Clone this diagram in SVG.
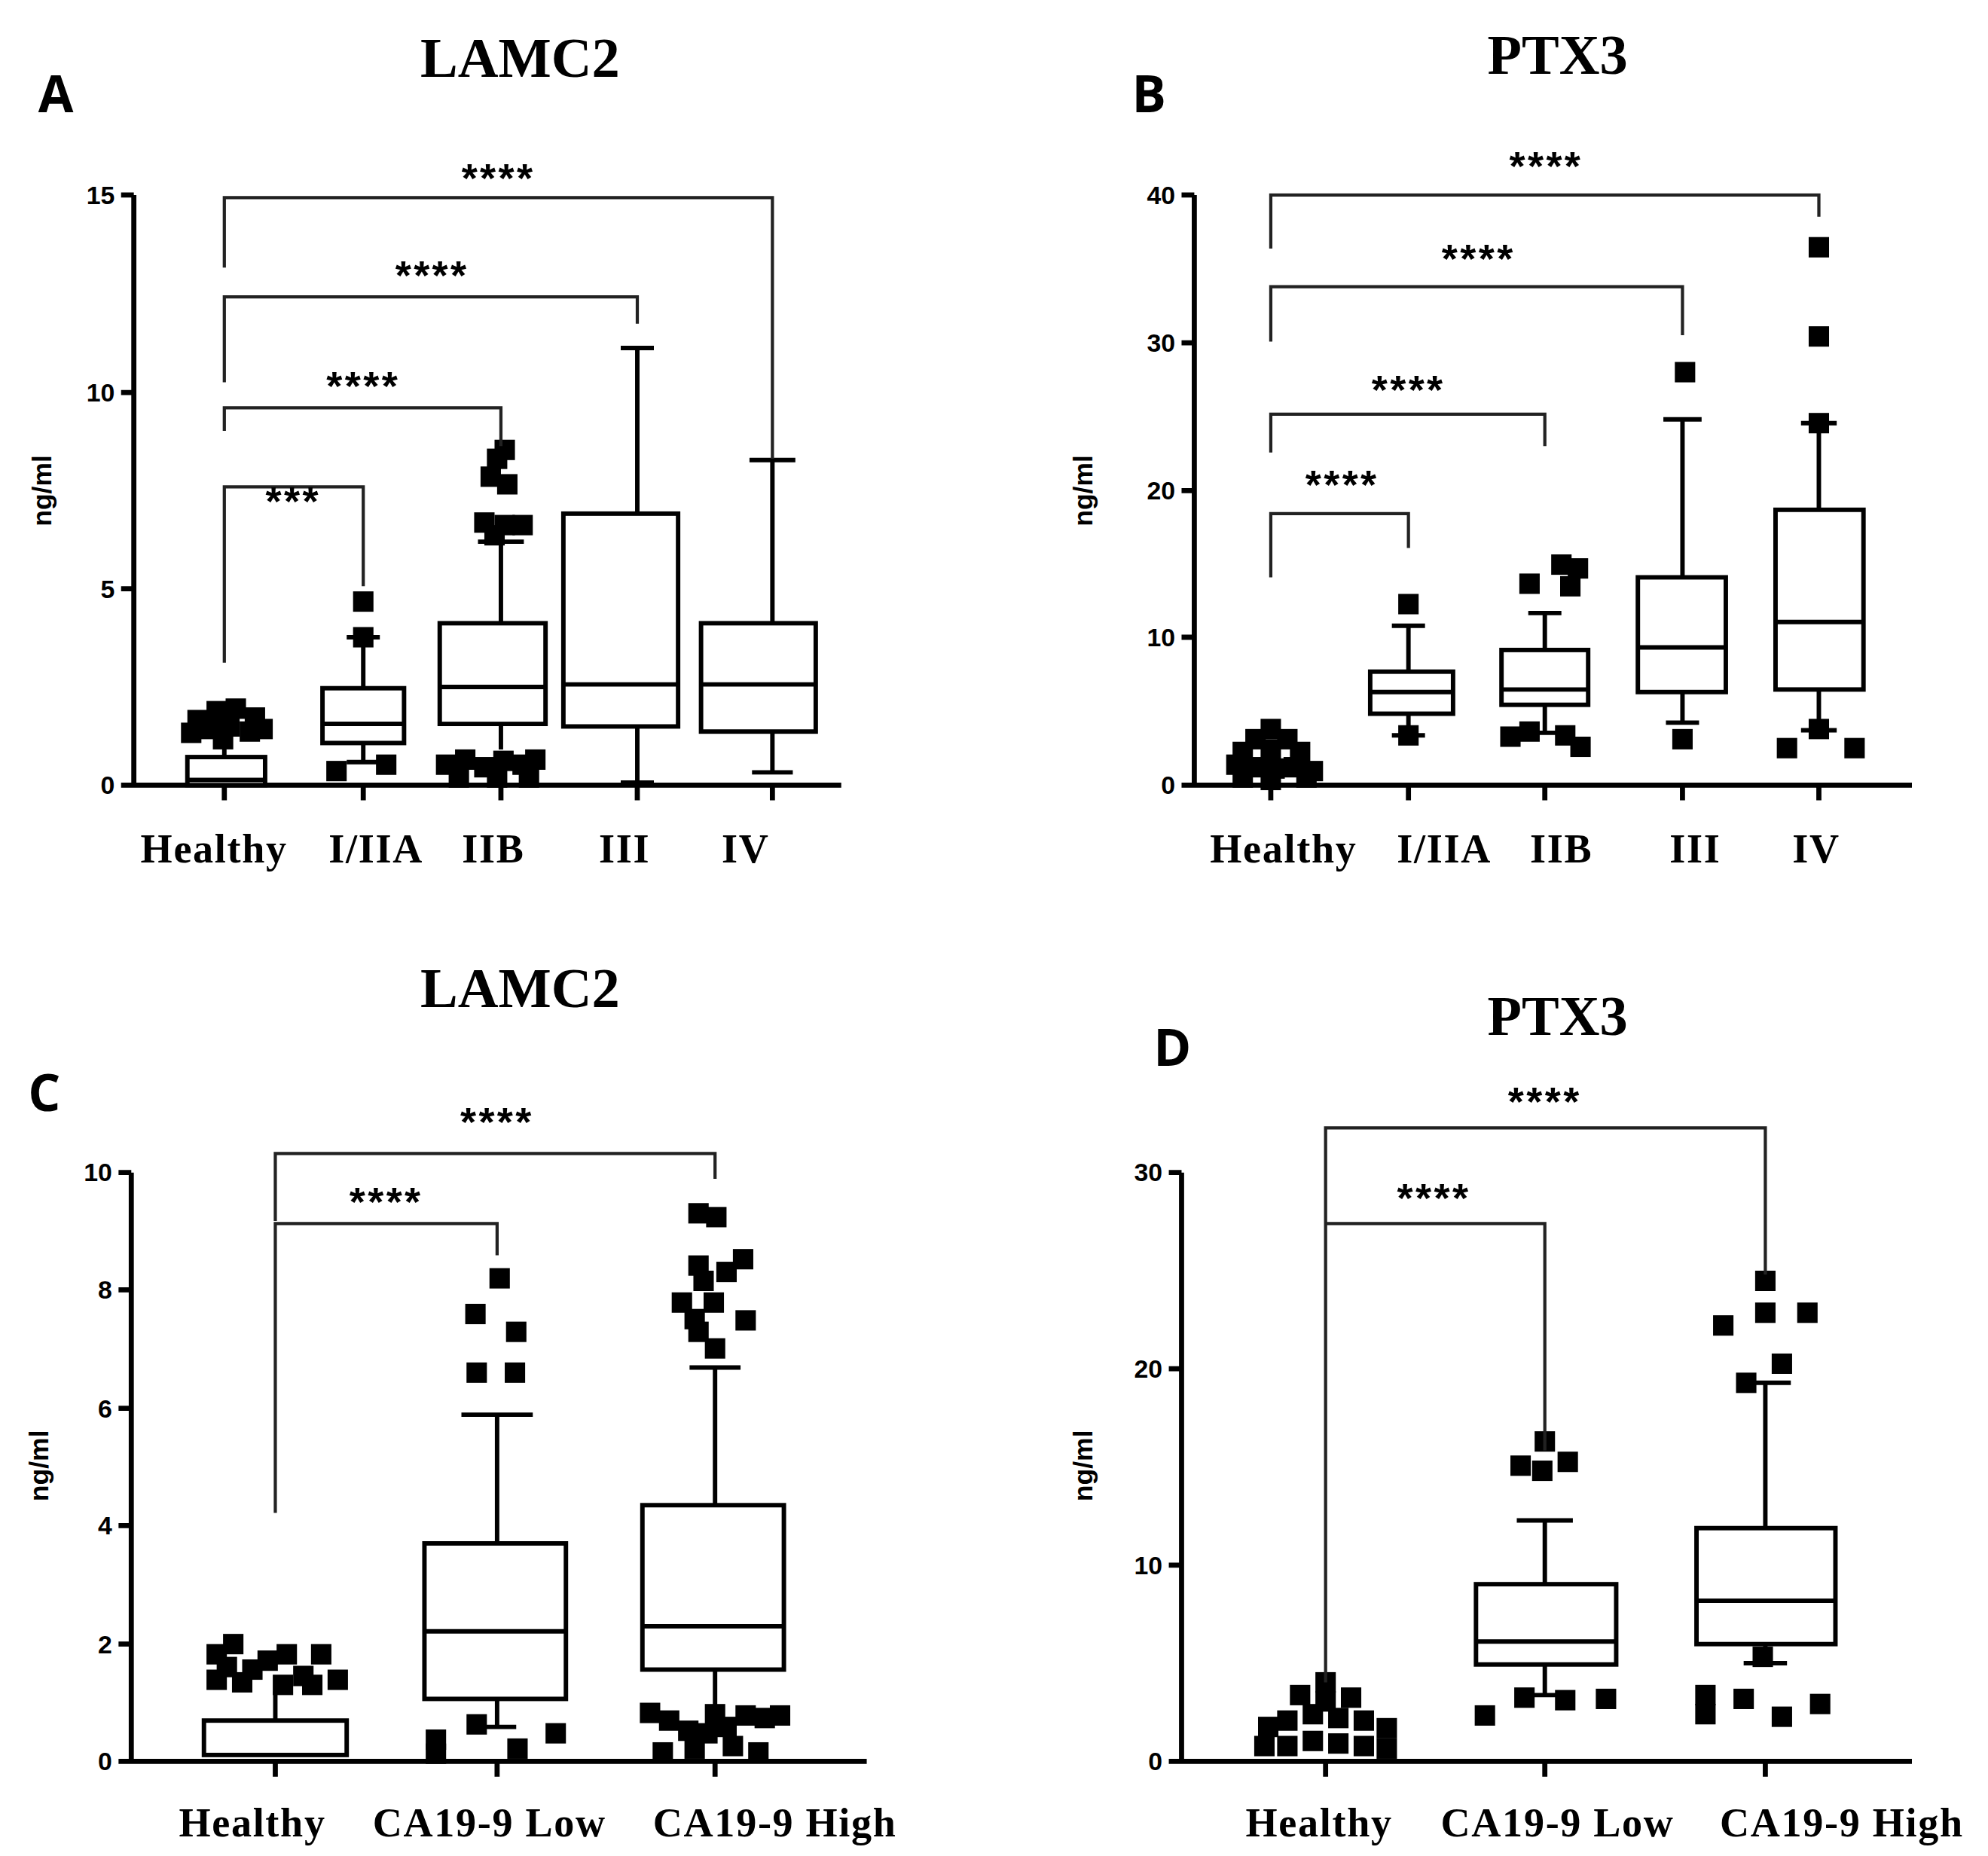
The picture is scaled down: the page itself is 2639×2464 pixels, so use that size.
<svg xmlns="http://www.w3.org/2000/svg" xmlns:xlink="http://www.w3.org/1999/xlink" width="2639" height="2464" viewBox="0 0 2639 2464">
<style>
.ax{stroke:#000;stroke-width:4;fill:none}
.bx{stroke:#000;stroke-width:3.5;fill:#fff}
.ln{stroke:#000;stroke-width:3.5;fill:none}
.br{stroke:#222;stroke-width:2.5;fill:none}
.tk{font-family:"Liberation Sans",Arial,sans-serif;font-weight:bold;font-size:20px;text-anchor:end}
.cat{font-family:"Liberation Serif","Times New Roman",serif;font-weight:bold;font-size:32px;text-anchor:middle;letter-spacing:1px}
.ttl{font-family:"Liberation Serif","Times New Roman",serif;font-weight:bold;font-size:44px;text-anchor:middle}
.pl{font-family:"Open Sans","Liberation Sans",sans-serif;font-weight:bold;font-size:40px}
.st{font-family:"Liberation Sans",Arial,sans-serif;font-weight:bold;font-size:32px;text-anchor:middle;letter-spacing:2px}
.yl{font-family:"Liberation Sans",Arial,sans-serif;font-weight:bold;font-size:21px;text-anchor:middle}
</style>
<defs><rect id="s" x="-8" y="-8" width="16" height="16" fill="#000"/></defs>
<rect width="2639" height="2464" fill="#fff"/>
<g transform="scale(1.692)">
<g id="panelA">
<text class="pl" x="30" y="88">A</text>
<text class="ttl" x="408" y="60">LAMC2</text>
<text class="yl" transform="translate(40,385) rotate(-90)">ng/ml</text>
<path class="ax" d="M105,153V616H660M95,153H105M95,308H105M95,462H105M95,616H105M176,616v12M285,616v12M393,616v12M500,616v12M606,616v12"/>
<text class="tk" x="90" y="160">15</text><text class="tk" x="90" y="315">10</text><text class="tk" x="90" y="469">5</text><text class="tk" x="90" y="623">0</text>
<g><use xlink:href="#s" x="155" y="565"/><use xlink:href="#s" x="170" y="558"/><use xlink:href="#s" x="185" y="556"/><use xlink:href="#s" x="200" y="563"/><use xlink:href="#s" x="150" y="575"/><use xlink:href="#s" x="165" y="572"/><use xlink:href="#s" x="180" y="570"/><use xlink:href="#s" x="196" y="574"/><use xlink:href="#s" x="206" y="572"/><use xlink:href="#s" x="175" y="580"/></g>
<path class="ln" d="M176,580V594"/>
<rect class="bx" x="147" y="594" width="61" height="22"/><path class="ln" d="M147,612H208"/>
<path class="ln" d="M285,500V540M285,583V598M272,500H298M272,598H298"/>
<rect class="bx" x="253" y="540" width="64" height="43"/><path class="ln" d="M253,568H317"/>
<use xlink:href="#s" x="285" y="472"/><use xlink:href="#s" x="285" y="500"/><use xlink:href="#s" x="264" y="605"/><use xlink:href="#s" x="303" y="600"/>
<path class="ln" d="M393,425V489M393,568V588M375,425H411"/>
<rect class="bx" x="345" y="489" width="83" height="79"/><path class="ln" d="M345,539H428"/>
<g><use xlink:href="#s" x="396" y="353"/><use xlink:href="#s" x="390" y="360"/><use xlink:href="#s" x="385" y="374"/><use xlink:href="#s" x="398" y="380"/><use xlink:href="#s" x="380" y="410"/><use xlink:href="#s" x="396" y="412"/><use xlink:href="#s" x="410" y="412"/><use xlink:href="#s" x="388" y="420"/>
<use xlink:href="#s" x="350" y="600"/><use xlink:href="#s" x="365" y="596"/><use xlink:href="#s" x="380" y="602"/><use xlink:href="#s" x="395" y="597"/><use xlink:href="#s" x="410" y="600"/><use xlink:href="#s" x="420" y="596"/><use xlink:href="#s" x="360" y="610"/><use xlink:href="#s" x="390" y="610"/><use xlink:href="#s" x="415" y="610"/></g>
<path class="ln" d="M500,273V403M500,570V614M487,273H513M487,614H513"/>
<rect class="bx" x="442" y="403" width="90" height="167"/><path class="ln" d="M442,537H532"/>
<path class="ln" d="M606,361V489M606,574V606M588,361H624M590,606H622"/>
<rect class="bx" x="550" y="489" width="90" height="85"/><path class="ln" d="M550,537H640"/>
<path class="br" d="M176,520V382H285V460M176,338V320H393V350M176,300V233H500V254M176,210V155H606V360"/>
<text class="st" x="230" y="404">***</text><text class="st" x="285" y="314">****</text><text class="st" x="339" y="227">****</text><text class="st" x="391" y="151">****</text>
</g>
<g id="panelB">
<text class="pl" x="888" y="88">B</text>
<text class="ttl" x="1222" y="58">PTX3</text>
<text class="yl" transform="translate(857,385) rotate(-90)">ng/ml</text>
<path class="ax" d="M937,153V616H1500M927,153H937M927,269H937M927,385H937M927,500H937M927,616H937M997,616v12M1105,616v12M1212,616v12M1320,616v12M1427,616v12"/>
<text class="tk" x="922" y="160">40</text><text class="tk" x="922" y="276">30</text><text class="tk" x="922" y="392">20</text><text class="tk" x="922" y="507">10</text><text class="tk" x="922" y="623">0</text>
<g><use xlink:href="#s" x="997" y="572"/><use xlink:href="#s" x="985" y="580"/><use xlink:href="#s" x="1010" y="580"/><use xlink:href="#s" x="975" y="590"/><use xlink:href="#s" x="1020" y="590"/><use xlink:href="#s" x="997" y="588"/><use xlink:href="#s" x="970" y="600"/><use xlink:href="#s" x="985" y="602"/><use xlink:href="#s" x="1000" y="603"/><use xlink:href="#s" x="1015" y="602"/><use xlink:href="#s" x="1030" y="605"/><use xlink:href="#s" x="975" y="610"/><use xlink:href="#s" x="1025" y="610"/><use xlink:href="#s" x="997" y="612"/></g>
<path class="ln" d="M1105,491V527M1105,560V577M1092,491H1118M1092,577H1118"/>
<rect class="bx" x="1075" y="527" width="65" height="33"/><path class="ln" d="M1075,543H1140"/>
<use xlink:href="#s" x="1105" y="474"/><use xlink:href="#s" x="1105" y="577"/>
<path class="ln" d="M1212,481V510M1212,553V575M1199,481H1225M1199,575H1225"/>
<rect class="bx" x="1178" y="510" width="68" height="43"/><path class="ln" d="M1178,541H1246"/>
<use xlink:href="#s" x="1225" y="443"/><use xlink:href="#s" x="1238" y="446"/><use xlink:href="#s" x="1200" y="458"/><use xlink:href="#s" x="1232" y="460"/><use xlink:href="#s" x="1185" y="578"/><use xlink:href="#s" x="1200" y="574"/><use xlink:href="#s" x="1228" y="577"/><use xlink:href="#s" x="1240" y="586"/>
<path class="ln" d="M1320,329V453M1320,543V567M1305,329H1335M1307,567H1333"/>
<rect class="bx" x="1285" y="453" width="69" height="90"/><path class="ln" d="M1285,508H1354"/>
<use xlink:href="#s" x="1322" y="292"/><use xlink:href="#s" x="1320" y="580"/>
<path class="ln" d="M1427,332V400M1427,541V573M1413,332H1441M1413,573H1441"/>
<rect class="bx" x="1393" y="400" width="69" height="141"/><path class="ln" d="M1393,488H1462"/>
<use xlink:href="#s" x="1427" y="194"/><use xlink:href="#s" x="1427" y="264"/><use xlink:href="#s" x="1427" y="332"/><use xlink:href="#s" x="1427" y="572"/><use xlink:href="#s" x="1402" y="587"/><use xlink:href="#s" x="1455" y="587"/>
<path class="br" d="M997,453V403H1105V430M997,355V325H1212V350M997,268V225H1320V263M997,195V153H1427V170"/>
<text class="st" x="1053" y="391">****</text><text class="st" x="1105" y="317">****</text><text class="st" x="1160" y="214">****</text><text class="st" x="1213" y="141">****</text>
</g>
<g id="panelC">
<text class="pl" x="22" y="872">C</text>
<text class="ttl" x="408" y="790">LAMC2</text>
<text class="yl" transform="translate(38,1150) rotate(-90)">ng/ml</text>
<path class="ax" d="M103,920V1382H680M93,920H103M93,1012H103M93,1105H103M93,1197H103M93,1290H103M93,1382H103M216,1382v12M390,1382v12M561,1382v12"/>
<text class="tk" x="88" y="927">10</text><text class="tk" x="88" y="1019">8</text><text class="tk" x="88" y="1112">6</text><text class="tk" x="88" y="1204">4</text><text class="tk" x="88" y="1297">2</text><text class="tk" x="88" y="1389">0</text>
<g><use xlink:href="#s" x="170" y="1298"/><use xlink:href="#s" x="183" y="1290"/><use xlink:href="#s" x="198" y="1310"/><use xlink:href="#s" x="210" y="1303"/><use xlink:href="#s" x="225" y="1298"/><use xlink:href="#s" x="238" y="1315"/><use xlink:href="#s" x="252" y="1298"/><use xlink:href="#s" x="265" y="1318"/><use xlink:href="#s" x="170" y="1318"/><use xlink:href="#s" x="190" y="1320"/><use xlink:href="#s" x="222" y="1322"/><use xlink:href="#s" x="245" y="1322"/><use xlink:href="#s" x="178" y="1308"/></g>
<path class="ln" d="M216,1327V1350"/>
<rect class="bx" x="160" y="1350" width="112" height="27"/>
<path class="ln" d="M390,1110V1211M390,1333V1355M362,1110H418M375,1355H405"/>
<rect class="bx" x="333" y="1211" width="111" height="122"/><path class="ln" d="M333,1280H444"/>
<use xlink:href="#s" x="392" y="1003"/><use xlink:href="#s" x="373" y="1031"/><use xlink:href="#s" x="405" y="1045"/><use xlink:href="#s" x="374" y="1077"/><use xlink:href="#s" x="404" y="1077"/><use xlink:href="#s" x="342" y="1365"/><use xlink:href="#s" x="342" y="1376"/><use xlink:href="#s" x="374" y="1353"/><use xlink:href="#s" x="406" y="1372"/><use xlink:href="#s" x="436" y="1360"/>
<path class="ln" d="M561,1073V1181M561,1310V1340M541,1073H581"/>
<rect class="bx" x="504" y="1181" width="111" height="129"/><path class="ln" d="M504,1276H615"/>
<g><use xlink:href="#s" x="548" y="952"/><use xlink:href="#s" x="562" y="955"/><use xlink:href="#s" x="583" y="988"/><use xlink:href="#s" x="548" y="993"/><use xlink:href="#s" x="570" y="998"/><use xlink:href="#s" x="552" y="1005"/><use xlink:href="#s" x="535" y="1022"/><use xlink:href="#s" x="560" y="1022"/><use xlink:href="#s" x="545" y="1035"/><use xlink:href="#s" x="585" y="1036"/><use xlink:href="#s" x="561" y="1058"/><use xlink:href="#s" x="548" y="1045"/>
<use xlink:href="#s" x="510" y="1344"/><use xlink:href="#s" x="525" y="1350"/><use xlink:href="#s" x="540" y="1358"/><use xlink:href="#s" x="555" y="1360"/><use xlink:href="#s" x="570" y="1355"/><use xlink:href="#s" x="585" y="1346"/><use xlink:href="#s" x="600" y="1348"/><use xlink:href="#s" x="612" y="1346"/><use xlink:href="#s" x="520" y="1375"/><use xlink:href="#s" x="545" y="1372"/><use xlink:href="#s" x="575" y="1370"/><use xlink:href="#s" x="595" y="1375"/><use xlink:href="#s" x="561" y="1345"/></g>
<path class="br" d="M216,1187V960H390V985M216,958V905H561V925"/>
<text class="st" x="303" y="954">****</text><text class="st" x="390" y="891">****</text>
</g>
<g id="panelD">
<text class="pl" x="905" y="836">D</text>
<text class="ttl" x="1222" y="812">PTX3</text>
<text class="yl" transform="translate(857,1150) rotate(-90)">ng/ml</text>
<path class="ax" d="M927,920V1382H1500M917,920H927M917,1074H927M917,1228H927M917,1382H927M1040,1382v12M1212,1382v12M1385,1382v12"/>
<text class="tk" x="912" y="927">30</text><text class="tk" x="912" y="1081">20</text><text class="tk" x="912" y="1235">10</text><text class="tk" x="912" y="1389">0</text>
<g><use xlink:href="#s" x="1040" y="1320"/><use xlink:href="#s" x="1020" y="1330"/><use xlink:href="#s" x="1060" y="1332"/><use xlink:href="#s" x="995" y="1355"/><use xlink:href="#s" x="1010" y="1350"/><use xlink:href="#s" x="1030" y="1345"/><use xlink:href="#s" x="1050" y="1348"/><use xlink:href="#s" x="1070" y="1350"/><use xlink:href="#s" x="1088" y="1356"/><use xlink:href="#s" x="992" y="1370"/><use xlink:href="#s" x="1010" y="1370"/><use xlink:href="#s" x="1030" y="1366"/><use xlink:href="#s" x="1050" y="1368"/><use xlink:href="#s" x="1070" y="1370"/><use xlink:href="#s" x="1088" y="1372"/><use xlink:href="#s" x="1040" y="1335"/></g>
<path class="ln" d="M1212,1193V1243M1212,1306V1330M1190,1193H1234M1198,1330H1226"/>
<rect class="bx" x="1158" y="1243" width="110" height="63"/><path class="ln" d="M1158,1288H1268"/>
<use xlink:href="#s" x="1212" y="1131"/><use xlink:href="#s" x="1210" y="1154"/><use xlink:href="#s" x="1193" y="1150"/><use xlink:href="#s" x="1230" y="1147"/><use xlink:href="#s" x="1165" y="1346"/><use xlink:href="#s" x="1196" y="1332"/><use xlink:href="#s" x="1228" y="1334"/><use xlink:href="#s" x="1260" y="1333"/>
<path class="ln" d="M1385,1085V1199M1385,1290V1305M1365,1085H1405M1368,1305H1402"/>
<rect class="bx" x="1331" y="1199" width="109" height="91"/><path class="ln" d="M1331,1256H1440"/>
<use xlink:href="#s" x="1385" y="1005"/><use xlink:href="#s" x="1385" y="1030"/><use xlink:href="#s" x="1352" y="1040"/><use xlink:href="#s" x="1418" y="1030"/><use xlink:href="#s" x="1398" y="1070"/><use xlink:href="#s" x="1370" y="1085"/><use xlink:href="#s" x="1383" y="1300"/><use xlink:href="#s" x="1338" y="1330"/><use xlink:href="#s" x="1338" y="1345"/><use xlink:href="#s" x="1368" y="1333"/><use xlink:href="#s" x="1398" y="1347"/><use xlink:href="#s" x="1428" y="1337"/>
<path class="br" d="M1040,1320V960H1212V1138M1040,960V885H1385V1000"/>
<text class="st" x="1125" y="951">****</text><text class="st" x="1212" y="875">****</text>
</g>
<g id="labels">
<text class="cat" x="168" y="677">Healthy</text><text class="cat" x="295" y="677">I/IIA</text><text class="cat" x="387" y="677">IIB</text><text class="cat" x="490" y="677">III</text><text class="cat" x="585" y="677">IV</text>
<text class="cat" x="1007" y="677">Healthy</text><text class="cat" x="1133" y="677">I/IIA</text><text class="cat" x="1225" y="677">IIB</text><text class="cat" x="1330" y="677">III</text><text class="cat" x="1425" y="677">IV</text>
<text class="cat" x="198" y="1441">Healthy</text><text class="cat" x="384" y="1441">CA19-9 Low</text><text class="cat" x="608" y="1441">CA19-9 High</text>
<text class="cat" x="1035" y="1441">Healthy</text><text class="cat" x="1222" y="1441">CA19-9 Low</text><text class="cat" x="1445" y="1441">CA19-9 High</text>
</g>
</g>
</svg>
